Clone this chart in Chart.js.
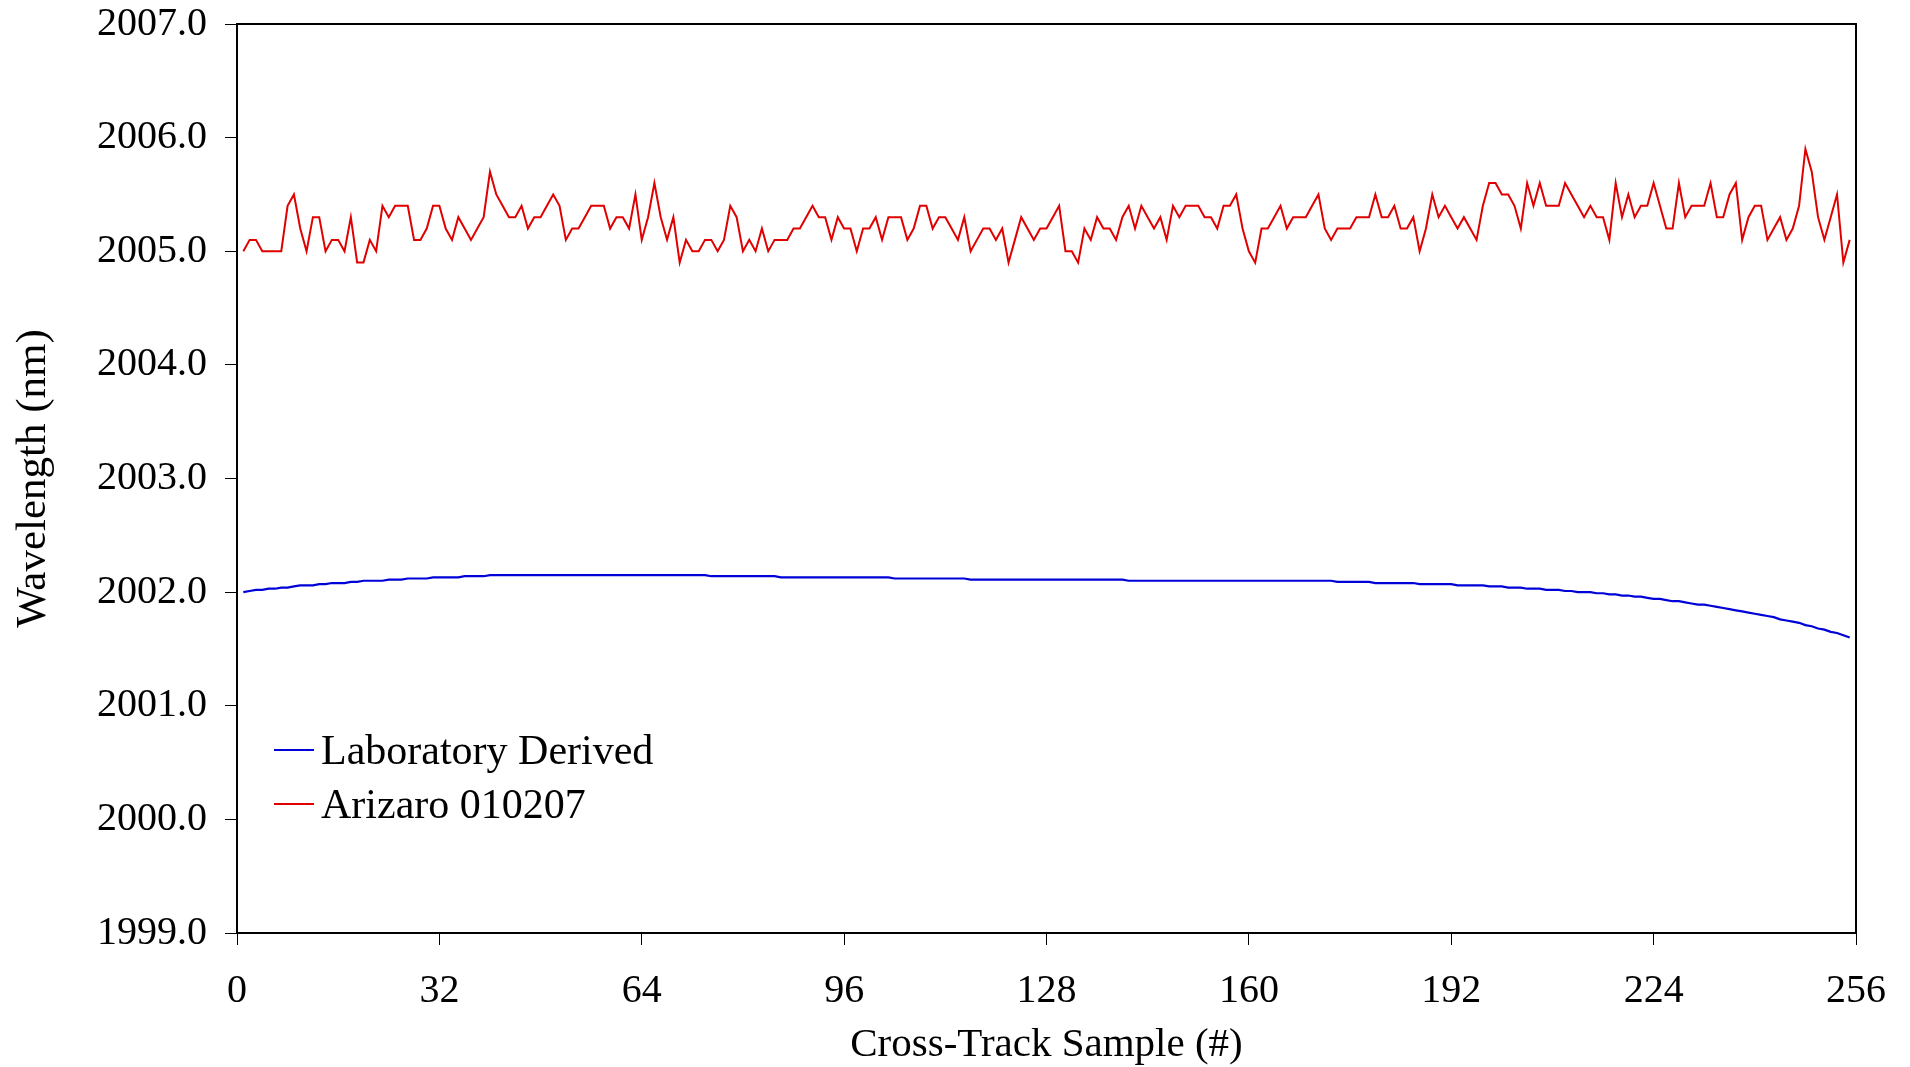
<!DOCTYPE html>
<html>
<head>
<meta charset="utf-8">
<title>Cross-Track Wavelength</title>
<script src="https://cdn.jsdelivr.net/npm/chart.js@4.4.1/dist/chart.umd.min.js"></script>
<style>
  html, body { margin: 0; padding: 0; background: #fff; }
  #chart { display: block; }
</style>
</head>
<body>
<canvas id="chart" width="1910" height="1067"></canvas>
<script>
// axis setup
const xTicks = [0, 32, 64, 96, 128, 160, 192, 224, 256];
const yMin = 1999;
const yMax = 2007;
const seriesNames = ['Laboratory Derived', 'Arizaro 010207'];

// Laboratory derived centre wavelength, samples 1..255
const labDerived = [
  2002.00, 2002.01, 2002.02, 2002.02, 2002.03, 2002.03, 2002.04, 2002.04, 2002.05, 2002.06,
  2002.06, 2002.06, 2002.07, 2002.07, 2002.08, 2002.08, 2002.08, 2002.09, 2002.09, 2002.10,
  2002.10, 2002.10, 2002.10, 2002.11, 2002.11, 2002.11, 2002.12, 2002.12, 2002.12, 2002.12,
  2002.13, 2002.13, 2002.13, 2002.13, 2002.13, 2002.14, 2002.14, 2002.14, 2002.14, 2002.15,
  2002.15, 2002.15, 2002.15, 2002.15, 2002.15, 2002.15, 2002.15, 2002.15, 2002.15, 2002.15,
  2002.15, 2002.15, 2002.15, 2002.15, 2002.15, 2002.15, 2002.15, 2002.15, 2002.15, 2002.15,
  2002.15, 2002.15, 2002.15, 2002.15, 2002.15, 2002.15, 2002.15, 2002.15, 2002.15, 2002.15,
  2002.15, 2002.15, 2002.15, 2002.15, 2002.14, 2002.14, 2002.14, 2002.14, 2002.14, 2002.14,
  2002.14, 2002.14, 2002.14, 2002.14, 2002.14, 2002.13, 2002.13, 2002.13, 2002.13, 2002.13,
  2002.13, 2002.13, 2002.13, 2002.13, 2002.13, 2002.13, 2002.13, 2002.13, 2002.13, 2002.13,
  2002.13, 2002.13, 2002.13, 2002.12, 2002.12, 2002.12, 2002.12, 2002.12, 2002.12, 2002.12,
  2002.12, 2002.12, 2002.12, 2002.12, 2002.12, 2002.11, 2002.11, 2002.11, 2002.11, 2002.11,
  2002.11, 2002.11, 2002.11, 2002.11, 2002.11, 2002.11, 2002.11, 2002.11, 2002.11, 2002.11,
  2002.11, 2002.11, 2002.11, 2002.11, 2002.11, 2002.11, 2002.11, 2002.11, 2002.11, 2002.11,
  2002.10, 2002.10, 2002.10, 2002.10, 2002.10, 2002.10, 2002.10, 2002.10, 2002.10, 2002.10,
  2002.10, 2002.10, 2002.10, 2002.10, 2002.10, 2002.10, 2002.10, 2002.10, 2002.10, 2002.10,
  2002.10, 2002.10, 2002.10, 2002.10, 2002.10, 2002.10, 2002.10, 2002.10, 2002.10, 2002.10,
  2002.10, 2002.10, 2002.10, 2002.09, 2002.09, 2002.09, 2002.09, 2002.09, 2002.09, 2002.08,
  2002.08, 2002.08, 2002.08, 2002.08, 2002.08, 2002.08, 2002.07, 2002.07, 2002.07, 2002.07,
  2002.07, 2002.07, 2002.06, 2002.06, 2002.06, 2002.06, 2002.06, 2002.05, 2002.05, 2002.05,
  2002.04, 2002.04, 2002.04, 2002.03, 2002.03, 2002.03, 2002.02, 2002.02, 2002.02, 2002.01,
  2002.01, 2002.00, 2002.00, 2002.00, 2001.99, 2001.99, 2001.98, 2001.98, 2001.97, 2001.97,
  2001.96, 2001.96, 2001.95, 2001.94, 2001.94, 2001.93, 2001.92, 2001.92, 2001.91, 2001.90,
  2001.89, 2001.89, 2001.88, 2001.87, 2001.86, 2001.85, 2001.84, 2001.83, 2001.82, 2001.81,
  2001.80, 2001.79, 2001.78, 2001.76, 2001.75, 2001.74, 2001.73, 2001.71, 2001.70, 2001.68,
  2001.67, 2001.65, 2001.64, 2001.62, 2001.60
];

// Arizaro 010207 scene-derived wavelength, samples 1..255
const arizaro = [
  2005.0, 2005.1, 2005.1, 2005.0, 2005.0, 2005.0, 2005.0, 2005.4, 2005.5, 2005.2,
  2005.0, 2005.3, 2005.3, 2005.0, 2005.1, 2005.1, 2005.0, 2005.3, 2004.9, 2004.9,
  2005.1, 2005.0, 2005.4, 2005.3, 2005.4, 2005.4, 2005.4, 2005.1, 2005.1, 2005.2,
  2005.4, 2005.4, 2005.2, 2005.1, 2005.3, 2005.2, 2005.1, 2005.2, 2005.3, 2005.7,
  2005.5, 2005.4, 2005.3, 2005.3, 2005.4, 2005.2, 2005.3, 2005.3, 2005.4, 2005.5,
  2005.4, 2005.1, 2005.2, 2005.2, 2005.3, 2005.4, 2005.4, 2005.4, 2005.2, 2005.3,
  2005.3, 2005.2, 2005.5, 2005.1, 2005.3, 2005.6, 2005.3, 2005.1, 2005.3, 2004.9,
  2005.1, 2005.0, 2005.0, 2005.1, 2005.1, 2005.0, 2005.1, 2005.4, 2005.3, 2005.0,
  2005.1, 2005.0, 2005.2, 2005.0, 2005.1, 2005.1, 2005.1, 2005.2, 2005.2, 2005.3,
  2005.4, 2005.3, 2005.3, 2005.1, 2005.3, 2005.2, 2005.2, 2005.0, 2005.2, 2005.2,
  2005.3, 2005.1, 2005.3, 2005.3, 2005.3, 2005.1, 2005.2, 2005.4, 2005.4, 2005.2,
  2005.3, 2005.3, 2005.2, 2005.1, 2005.3, 2005.0, 2005.1, 2005.2, 2005.2, 2005.1,
  2005.2, 2004.9, 2005.1, 2005.3, 2005.2, 2005.1, 2005.2, 2005.2, 2005.3, 2005.4,
  2005.0, 2005.0, 2004.9, 2005.2, 2005.1, 2005.3, 2005.2, 2005.2, 2005.1, 2005.3,
  2005.4, 2005.2, 2005.4, 2005.3, 2005.2, 2005.3, 2005.1, 2005.4, 2005.3, 2005.4,
  2005.4, 2005.4, 2005.3, 2005.3, 2005.2, 2005.4, 2005.4, 2005.5, 2005.2, 2005.0,
  2004.9, 2005.2, 2005.2, 2005.3, 2005.4, 2005.2, 2005.3, 2005.3, 2005.3, 2005.4,
  2005.5, 2005.2, 2005.1, 2005.2, 2005.2, 2005.2, 2005.3, 2005.3, 2005.3, 2005.5,
  2005.3, 2005.3, 2005.4, 2005.2, 2005.2, 2005.3, 2005.0, 2005.2, 2005.5, 2005.3,
  2005.4, 2005.3, 2005.2, 2005.3, 2005.2, 2005.1, 2005.4, 2005.6, 2005.6, 2005.5,
  2005.5, 2005.4, 2005.2, 2005.6, 2005.4, 2005.6, 2005.4, 2005.4, 2005.4, 2005.6,
  2005.5, 2005.4, 2005.3, 2005.4, 2005.3, 2005.3, 2005.1, 2005.6, 2005.3, 2005.5,
  2005.3, 2005.4, 2005.4, 2005.6, 2005.4, 2005.2, 2005.2, 2005.6, 2005.3, 2005.4,
  2005.4, 2005.4, 2005.6, 2005.3, 2005.3, 2005.5, 2005.6, 2005.1, 2005.3, 2005.4,
  2005.4, 2005.1, 2005.2, 2005.3, 2005.1, 2005.2, 2005.4, 2005.9, 2005.7, 2005.3,
  2005.1, 2005.3, 2005.5, 2004.9, 2005.1
];

// sample numbers start at 1
const samples = arizaro.map((_, i) => i + 1);

const serif = 'Liberation Serif';
Chart.defaults.font.family = serif;
Chart.defaults.color = '#000';

const toPoints = (values) => values.map((v, i) => ({ x: samples[i], y: v }));

// frame around the plot area
const plotFrame = {
  id: 'plotFrame',
  afterDraw(chart) {
    const { ctx, chartArea: a } = chart;
    ctx.save();
    ctx.strokeStyle = '#000';
    ctx.lineWidth = 2;
    ctx.strokeRect(a.left, a.top, a.right - a.left, a.bottom - a.top);
    ctx.restore();
  }
};

// legend sits inside the plot, lower left
const plotLegend = {
  id: 'plotLegend',
  afterDraw(chart) {
    const { ctx, chartArea: a } = chart;
    ctx.save();
    ctx.font = '42px "' + serif + '"';
    ctx.fillStyle = '#000';
    ctx.textBaseline = 'alphabetic';
    chart.data.datasets.forEach((ds, i) => {
      const y = a.bottom - 183 + i * 54;
      ctx.strokeStyle = ds.borderColor;
      ctx.lineWidth = 2;
      ctx.beginPath();
      ctx.moveTo(a.left + 37, y);
      ctx.lineTo(a.left + 77, y);
      ctx.stroke();
      ctx.fillText(ds.label, a.left + 84, y + 14);
    });
    ctx.restore();
  }
};

new Chart(document.getElementById('chart'), {
  type: 'line',
  data: {
    datasets: [
      {
        label: seriesNames[0],
        data: toPoints(labDerived),
        borderColor: '#0000d8',
        borderWidth: 2.2,
        pointRadius: 0,
        tension: 0
      },
      {
        label: seriesNames[1],
        data: toPoints(arizaro),
        borderColor: '#e00000',
        borderWidth: 2,
        pointRadius: 0,
        tension: 0
      }
    ]
  },
  options: {
    responsive: false,
    animation: false,
    devicePixelRatio: 1,
    layout: { padding: { top: 24, right: 54, bottom: 0, left: 0 } },
    plugins: {
      legend: { display: false },
      tooltip: { enabled: false }
    },
    scales: {
      x: {
        type: 'linear',
        min: xTicks[0],
        max: xTicks[xTicks.length - 1],
        afterBuildTicks: (scale) => { scale.ticks = xTicks.map((v) => ({ value: v })); },
        afterFit: (scale) => { scale.height = 134; },
        border: { color: '#000', width: 2 },
        grid: { drawOnChartArea: false, drawTicks: true, tickLength: 12, color: '#000', tickWidth: 1 },
        ticks: { font: { size: 40 }, padding: 22, maxRotation: 0, autoSkip: false },
        title: {
          display: true,
          text: 'Cross-Track Sample (#)',
          font: { size: 41, lineHeight: 1.05 },
          padding: { top: 0, bottom: 0 }
        }
      },
      y: {
        min: yMin,
        max: yMax,
        afterFit: (scale) => {
          scale.width = 237;
          // let the layout padding decide the top edge
          scale.paddingTop = 0;
          scale.paddingBottom = 0;
        },
        border: { color: '#000', width: 2 },
        grid: { drawOnChartArea: false, drawTicks: true, tickLength: 12, color: '#000', tickWidth: 1 },
        ticks: {
          stepSize: 1,
          font: { size: 40 },
          padding: 18,
          callback: (v) => v.toFixed(1)
        },
        title: {
          display: true,
          text: 'Wavelength (nm)',
          font: { size: 43 },
          padding: { top: 8, bottom: 0 }
        }
      }
    }
  },
  plugins: [plotFrame, plotLegend]
});
</script>
</body>
</html>
